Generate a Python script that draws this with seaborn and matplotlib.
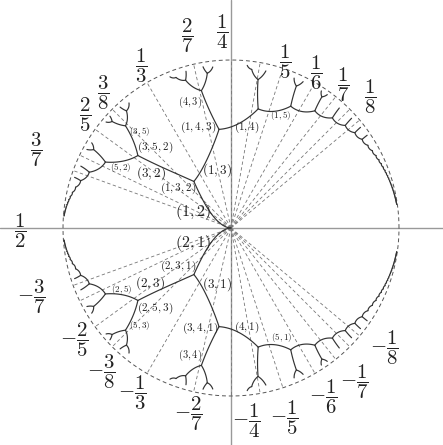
import numpy as np
import pandas as pd
import matplotlib
matplotlib.use("Agg")
import matplotlib.pyplot as plt
import seaborn as sns

# fractions labelled round the circle (upper half and lower half)
upper_fracs = [(1, 2), (3, 7), (2, 5), (3, 8), (1, 3), (2, 7), (1, 4), (1, 5), (1, 6), (1, 7), (1, 8)]
lower_fracs = [(-3, 7), (-2, 5), (-3, 8), (-1, 3), (-2, 7), (-1, 4), (-1, 5), (-1, 6), (-1, 7), (-1, 8)]

# tree labels
edge_labels = ["(1,2)", "(2,1)", "(1,3)", "(3,1)", "(3,2)", "(2,3)"]
small_labels = ["(1,3,2)", "(2,3,1)", "(3,5,2)", "(2,5,3)", "(1,4,3)", "(3,4,1)",
                "(4,3)", "(3,4)", "(1,4)", "(4,1)", "(3,5)", "(5,3)", "(5,2)", "(2,5)",
                "(1,5)", "(5,1)"]

# ---- layout (pixel centres of the texts) ----
W, H = 443, 445
CX, CY, R = 231, 228, 168
frac_px = {
    (1, 2): (20, 231), (3, 7): (36, 150), (2, 5): (85, 115), (3, 8): (103, 93),
    (1, 3): (141, 66), (2, 7): (187, 36), (1, 4): (222, 32), (1, 5): (285, 62),
    (1, 6): (316, 73), (1, 7): (343, 85), (1, 8): (370, 97),
    (-3, 7): (31, 297), (-2, 5): (74, 340), (-3, 8): (101, 372), (-1, 3): (132, 393),
    (-2, 7): (188, 414), (-1, 4): (246, 421), (-1, 5): (284, 418), (-1, 6): (323, 397),
    (-1, 7): (354, 382), (-1, 8): (384, 348),
}
label_px = {
    "(1,2)": (193, 212, 11.5), "(2,1)": (193, 243, 11.5),
    "(1,3)": (217, 170, 9.5), "(3,1)": (217, 284, 9.5),
    "(3,2)": (151, 173, 9.5), "(2,3)": (150, 283, 9.5),
    "(1,3,2)": (178, 188, 8), "(2,3,1)": (178, 266, 8),
    "(3,5,2)": (155, 147, 8), "(2,5,3)": (155, 308, 8),
    "(1,4,3)": (198, 127, 8), "(3,4,1)": (200, 328, 8),
    "(4,3)": (190, 102, 7.5), "(3,4)": (190, 355, 7.5),
    "(1,4)": (247, 127, 8), "(4,1)": (247, 327, 8),
    "(3,5)": (140, 132, 6.5), "(5,3)": (140, 326, 6.5),
    "(5,2)": (121, 167, 6.5), "(2,5)": (122, 289, 6.5),
    "(1,5)": (281, 115, 6.5), "(5,1)": (282, 338, 6.5),
}

Z0 = 0.5 + 0.5j * np.sqrt(3)
C0 = np.exp(-np.pi / np.sqrt(3))


def center(a, b, c, d):
    # centre of the Farey triangle a/b, (a+c)/(b+d), c/d
    return (c * Z0 + a) / (d * Z0 + b)


def to_disk(z):
    z = np.asarray(z)
    r = (np.exp(-2 * np.pi * z.imag) - C0) / (1 - C0)
    t = 2 * np.pi * z.real
    return r * np.cos(t), r * np.sin(t)


def geodesic(z1, z2, n=40):
    if abs(z1.real - z2.real) < 1e-12:
        return np.linspace(z1, z2, n)
    xc = (abs(z2) ** 2 - abs(z1) ** 2) / (2 * (z2.real - z1.real))
    rad = abs(z1 - xc)
    t = np.linspace(np.angle(z1 - xc), np.angle(z2 - xc), n)
    return xc + rad * np.exp(1j * t)


tree_rows = []
radial = set()
seg_count = [0]


def grow(a, b, c, d):
    z = center(a, b, c, d)
    p, q = a + c, b + d
    for kid in [(a, b, p, q), (p, q, c, d)]:
        z2 = center(*kid)
        x1, y1 = to_disk(z)
        x2, y2 = to_disk(z2)
        length = R * np.hypot(x2 - x1, y2 - y1)
        verts = [(kid[0], kid[1]), (kid[2], kid[3])]
        chain = ((0, 1) in verts or (1, 1) in verts or (1, 2) in verts) and max(kid[1], kid[3]) < 45
        if length > 5.5 or chain:
            xs, ys = to_disk(geodesic(z, z2))
            for x, y in zip(xs, ys):
                tree_rows.append((seg_count[0], x, y))
            seg_count[0] += 1
            if kid[1] + kid[3] <= 9:
                radial.add((kid[0] + kid[2], kid[1] + kid[3]))
            grow(*kid)


grow(0, 1, 1, 1)
tree = pd.DataFrame(tree_rows, columns=["seg", "x", "y"])

rows = []
for k, (p, q) in enumerate(sorted(radial)):
    t = 2 * np.pi * p / q
    rows += [(k, 0.0, 0.0), (k, np.cos(t), np.sin(t))]
rad_df = pd.DataFrame(rows, columns=["seg", "x", "y"])

th = np.linspace(0, 2 * np.pi, 400)
circle = pd.DataFrame({"x": np.cos(th), "y": np.sin(th)})

sns.set_theme(style="white")
plt.rcParams["mathtext.fontset"] = "cm"
plt.rcParams["font.family"] = ["DejaVu Serif"]

fig = plt.figure(figsize=(W / 100, H / 100), dpi=100)
ax = fig.add_axes([0, 0, 1, 1])
ax.set_xlim(-CX / R, (W - CX) / R)
ax.set_ylim(-(H - CY) / R, CY / R)
ax.axis("off")

ax.axhline(0, color="#999999", lw=1.0, zorder=1)
ax.axvline(0, color="#999999", lw=1.0, zorder=1)

sns.lineplot(data=rad_df, x="x", y="y", units="seg", estimator=None, sort=False,
             color="#777777", lw=0.6, linestyle=(0, (4, 3)), ax=ax, zorder=2)
sns.lineplot(data=circle, x="x", y="y", estimator=None, sort=False,
             color="#555555", lw=0.7, linestyle=(0, (4, 3)), ax=ax, zorder=2)
sns.lineplot(data=tree, x="x", y="y", units="seg", estimator=None, sort=False,
             color="#333333", lw=0.85, ax=ax, zorder=3)

for (p, q) in upper_fracs + lower_fracs:
    x, y = frac_px[(p, q)]
    sign = "-" if p < 0 else ""
    fig.text(x / W, 1 - y / H, r"$%s\dfrac{%d}{%d}$" % (sign, abs(p), q),
             ha="center", va="center", fontsize=15, color="#222222")

for lab in edge_labels + small_labels:
    x, y, s = label_px[lab]
    fig.text(x / W, 1 - y / H, "$" + lab + "$", ha="center", va="center",
             fontsize=s, color="#222222")

fig.savefig("out.png", dpi=100)
